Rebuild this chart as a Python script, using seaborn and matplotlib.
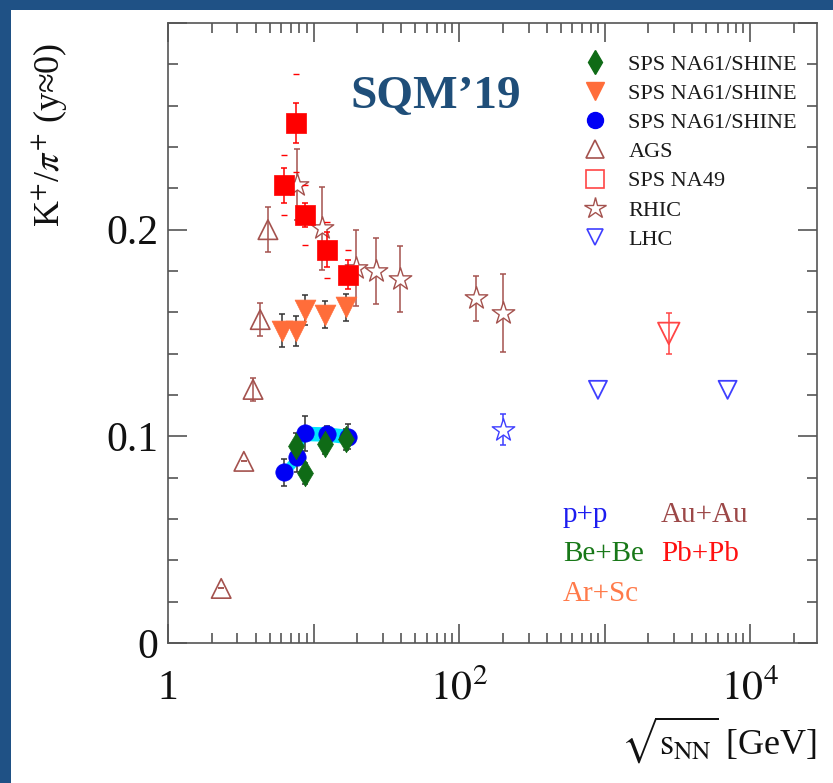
import numpy as np
import matplotlib
matplotlib.use("Agg")
import matplotlib.pyplot as plt
from matplotlib.lines import Line2D
from matplotlib.patches import Rectangle
from matplotlib.ticker import LogLocator, MultipleLocator, FuncFormatter
import seaborn as sns

# ---- NA61/SHINE Be+Be ----
bebe_sqrts = [7.6, 8.8, 11.9, 16.8]
bebe_ratio = [0.0954, 0.0821, 0.0965, 0.0986]
bebe_err = [0.006, 0.005, 0.005, 0.005]

# ---- NA61/SHINE Ar+Sc ----
arsc_sqrts = [6.1, 7.6, 8.8, 11.9, 16.8]
arsc_ratio = [0.1512, 0.1508, 0.1613, 0.1589, 0.1624]
arsc_err = [0.0082, 0.0072, 0.0072, 0.0066, 0.0067]

# ---- NA61/SHINE p+p ----
pp_sqrts = [6.3, 7.7, 8.8, 12.3, 17.3]
pp_ratio = [0.0826, 0.0898, 0.1014, 0.1011, 0.0999]
pp_err = [0.0065, 0.007, 0.0085, 0.004, 0.006]
pp_sys = [0.0035, 0.0035, 0.0035, 0.0035, 0.0035]

# ---- AGS (Au+Au) ----
ags_sqrts = [2.32, 3.32, 3.84, 4.30, 4.86]
ags_ratio = [0.0264, 0.0879, 0.1227, 0.1565, 0.2000]
ags_err = [0.0, 0.0, 0.0055, 0.008, 0.011]

# ---- SPS NA49 (Pb+Pb) ----
na49_sqrts = [6.3, 7.6, 8.8, 12.3, 17.3]
na49_ratio = [0.2215, 0.2516, 0.2071, 0.1902, 0.1782]
na49_stat = [0.0084, 0.0096, 0.006, 0.0085, 0.007]
na49_sys = [0.0145, 0.0235, 0.0145, 0.0137, 0.012]

# ---- RHIC (Au+Au) ----
rhic_sqrts = [7.7, 11.5, 19.6, 27, 39, 130, 200]
rhic_ratio = [0.2218, 0.2006, 0.1815, 0.1798, 0.1760, 0.1668, 0.1596]
rhic_err = [0.017, 0.020, 0.0185, 0.016, 0.016, 0.011, 0.019]

# ---- RHIC (p+p) ----
rhic_pp_sqrts = [200]
rhic_pp_ratio = [0.1033]
rhic_pp_err = [0.0075]

# ---- LHC ----
lhc_pp_sqrts = [900, 7000]
lhc_pp_ratio = [0.1225, 0.1225]
lhc_pbpb_sqrts = [2760]
lhc_pbpb_ratio = [0.1498]
lhc_pbpb_err = [0.010]

legend_labels = ["SPS NA61/SHINE", "SPS NA61/SHINE", "SPS NA61/SHINE",
                 "AGS", "SPS NA49", "RHIC", "LHC"]

# colours
BORDER = "#1F5185"
GREEN = "#0f6b16"
ORANGE = "#ff6d3a"
BLUE = "#0000f5"
BROWN = "#a4524e"
RED = "#ff0000"
LRED = "#ff4545"
LBLUE = "#3f3fff"
CYAN = "#00e6ff"
AXC = "#555555"
BAR = "#333333"

sns.set_theme(style="ticks")
plt.rcParams["font.family"] = ["Liberation Serif", "DejaVu Serif"]
plt.rcParams["mathtext.fontset"] = "stix"

W, H = 833, 783
fig = plt.figure(figsize=(W / 100, H / 100), dpi=100)
fig.patch.set_facecolor(BORDER)
fig.add_artist(Rectangle((11 / W, 0), 1, 1 - 10 / H, transform=fig.transFigure,
                         facecolor="white", edgecolor="none", zorder=-5))

L, R, T, B = 168, 817, 23, 643
ax = fig.add_axes([L / W, 1 - B / H, (R - L) / W, (B - T) / H])
ax.set_facecolor("white")
ax.set_xscale("log")
ax.set_xlim(1, 2.88e4)
ax.set_ylim(0, 0.3)

# p+p systematic band
ax.fill_between(pp_sqrts, np.array(pp_ratio) - np.array(pp_sys),
                np.array(pp_ratio) + np.array(pp_sys), color=CYAN, lw=0, zorder=2)

# error bars
eb = dict(fmt="none", capsize=2, capthick=1.1, elinewidth=1.1)
ax.errorbar(arsc_sqrts, arsc_ratio, yerr=arsc_err, ecolor=BAR, zorder=3, **eb)
ax.errorbar(pp_sqrts, pp_ratio, yerr=pp_err, ecolor=BAR, zorder=3, **eb)
ax.errorbar(bebe_sqrts, bebe_ratio, yerr=bebe_err, ecolor=BAR, zorder=3, **eb)
ax.errorbar(ags_sqrts, ags_ratio, yerr=ags_err, ecolor=BROWN, zorder=3, **eb)
ax.errorbar(rhic_sqrts, rhic_ratio, yerr=rhic_err, ecolor=BROWN, zorder=3, **eb)
ax.errorbar(rhic_pp_sqrts, rhic_pp_ratio, yerr=rhic_pp_err, ecolor=LBLUE, zorder=3, **eb)
ax.errorbar(lhc_pbpb_sqrts, lhc_pbpb_ratio, yerr=lhc_pbpb_err, ecolor=LRED, zorder=3, **eb)
ax.errorbar(na49_sqrts, na49_ratio, yerr=na49_stat, ecolor=RED, zorder=6, **eb)
# NA49 systematic brackets
ax.errorbar(na49_sqrts, na49_ratio, yerr=na49_sys, fmt="none", ecolor=RED,
            elinewidth=0, capsize=2, capthick=1.0, zorder=6)

# open markers
sns.scatterplot(x=ags_sqrts, y=ags_ratio, ax=ax, marker="^", s=14 ** 2,
                color=BROWN, facecolor="none", edgecolor=BROWN, linewidth=1.2,
                zorder=4, legend=False)
sns.scatterplot(x=rhic_sqrts, y=rhic_ratio, ax=ax, marker="*", s=17 ** 2,
                color=BROWN, facecolor="white", edgecolor=BROWN, linewidth=1.0,
                zorder=5, legend=False)
sns.scatterplot(x=rhic_pp_sqrts, y=rhic_pp_ratio, ax=ax, marker="*", s=17 ** 2,
                color=LBLUE, facecolor="white", edgecolor=LBLUE, linewidth=1.0,
                zorder=5, legend=False)
sns.scatterplot(x=lhc_pp_sqrts, y=lhc_pp_ratio, ax=ax, marker="v", s=13 ** 2,
                color=LBLUE, facecolor="none", edgecolor=LBLUE, linewidth=1.3,
                zorder=4, legend=False)
sns.scatterplot(x=lhc_pbpb_sqrts, y=lhc_pbpb_ratio, ax=ax, marker="v", s=15.5 ** 2,
                color=LRED, facecolor="none", edgecolor=LRED, linewidth=1.3,
                zorder=4, legend=False)

# filled markers
sns.scatterplot(x=na49_sqrts, y=na49_ratio, ax=ax, marker="s", s=14 ** 2,
                color=RED, edgecolor=RED, linewidth=0.5, zorder=7, legend=False)
sns.scatterplot(x=arsc_sqrts, y=arsc_ratio, ax=ax, marker="v", s=15 ** 2,
                color=ORANGE, edgecolor=ORANGE, linewidth=0.5, zorder=7, legend=False)
sns.scatterplot(x=pp_sqrts, y=pp_ratio, ax=ax, marker="o", s=12.5 ** 2,
                color=BLUE, edgecolor=BLUE, linewidth=0.5, zorder=7, legend=False)
sns.scatterplot(x=bebe_sqrts, y=bebe_ratio, ax=ax, marker="d", s=13.5 ** 2,
                color=GREEN, edgecolor=GREEN, linewidth=0.5, zorder=8, legend=False)

# axes styling
for sp in ax.spines.values():
    sp.set_visible(True)
    sp.set_color(AXC)
    sp.set_linewidth(1.2)

ax.xaxis.set_major_locator(LogLocator(base=10, numticks=12))
ax.xaxis.set_minor_locator(LogLocator(base=10, subs=np.arange(2, 10), numticks=60))
xlab = {0: "1", 2: "$10^2$", 4: "$10^4$"}
ax.xaxis.set_major_formatter(FuncFormatter(
    lambda v, p: xlab.get(int(round(np.log10(v))), "") if v > 0 else ""))
ax.xaxis.set_minor_formatter(FuncFormatter(lambda v, p: ""))
ax.yaxis.set_major_locator(MultipleLocator(0.1))
ax.yaxis.set_minor_locator(MultipleLocator(0.02))
ylab = {0: "0", 1: "0.1", 2: "0.2"}
ax.yaxis.set_major_formatter(FuncFormatter(lambda v, p: ylab.get(int(round(v * 10)), "")))

ax.tick_params(which="both", direction="in", top=True, right=True,
               color=AXC, width=1.2, labelsize=30, labelcolor="#111111")
ax.tick_params(which="major", length=14)
ax.tick_params(which="minor", length=7)
ax.tick_params(axis="x", which="major", pad=19)
ax.tick_params(axis="y", which="major", pad=7)

ax.set_xlabel(r"$\sqrt{\mathrm{s}_{\mathrm{NN}}}$ [GeV]", fontsize=26, color="#111111")
ax.xaxis.set_label_coords(1.0, (B - 740) / (B - T))
ax.xaxis.label.set_ha("right")
ax.xaxis.label.set_va("center")
ax.set_ylabel(r"K$^{+}$/$\pi^{+}$ (y≈0)", fontsize=26, color="#111111")
ax.yaxis.set_label_coords((50 - L) / (R - L), (B - 135) / (B - T))
ax.yaxis.label.set_va("center")

# legend
handles = [
    Line2D([], [], ls="none", marker="d", ms=12, color=GREEN, mec=GREEN),
    Line2D([], [], ls="none", marker="v", ms=12.5, color=ORANGE, mec=ORANGE),
    Line2D([], [], ls="none", marker="o", ms=11.5, color=BLUE, mec=BLUE),
    Line2D([], [], ls="none", marker="^", ms=13, mfc="none", mec=BROWN, mew=1.2),
    Line2D([], [], ls="none", marker="s", ms=13, mfc="none", mec=LRED, mew=1.2),
    Line2D([], [], ls="none", marker="*", ms=16, mfc="none", mec=BROWN, mew=1.0),
    Line2D([], [], ls="none", marker="v", ms=12, mfc="none", mec=LBLUE, mew=1.2),
]
ax.legend(handles, legend_labels, loc="upper left",
          bbox_to_anchor=(584 / W, 1 - 54 / H), bbox_transform=fig.transFigure,
          frameon=False, fontsize=16, handlelength=1.0, handletextpad=1.0,
          labelspacing=0.39, borderpad=0, borderaxespad=0, labelcolor="#1a1a1a")

# conference tag
fig.text(350 / W, 1 - 97 / H, "SQM’19", fontsize=34, fontweight="bold",
         color="#1F4E79", ha="left", va="center")

# collision-system key
sys_fs = 21
fig.text(563 / W, 1 - 522 / H, "p+p", color="#1c1cf0", fontsize=sys_fs, va="baseline")
fig.text(661 / W, 1 - 522 / H, "Au+Au", color="#9c4848", fontsize=sys_fs, va="baseline")
fig.text(563 / W, 1 - 561 / H, "Be+Be", color="#187818", fontsize=sys_fs, va="baseline")
fig.text(661 / W, 1 - 561 / H, "Pb+Pb", color="#ff1010", fontsize=sys_fs, va="baseline")
fig.text(563 / W, 1 - 601 / H, "Ar+Sc", color="#ff7a4a", fontsize=sys_fs, va="baseline")

fig.savefig("out.png", dpi=100, facecolor=fig.get_facecolor())
